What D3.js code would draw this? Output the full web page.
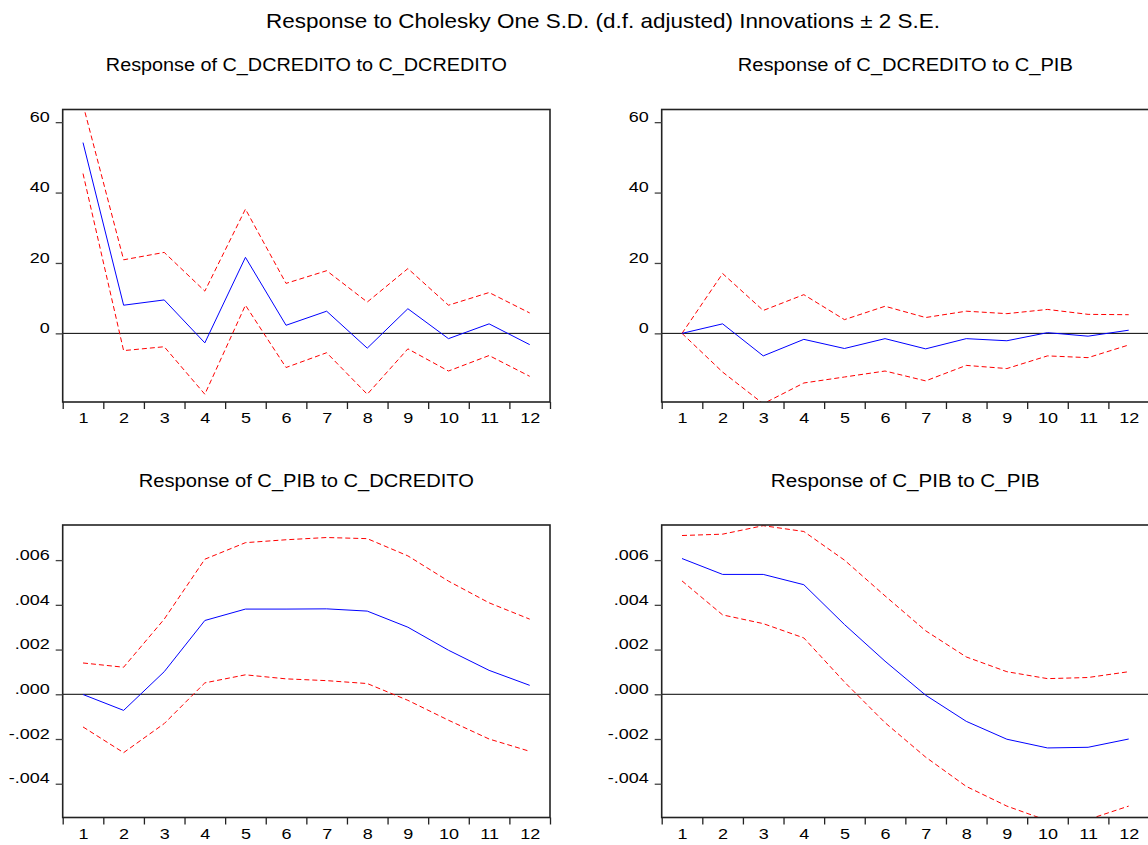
<!DOCTYPE html>
<html>
<head>
<meta charset="utf-8">
<script src="https://cdn.jsdelivr.net/npm/d3@7"></script>
<style>
  html, body { margin: 0; padding: 0; background: #fff; }
  svg { display: block; font-family: "Liberation Sans", Arial, sans-serif; }
</style>
</head>
<body>
<svg id="chart" width="1148" height="845"></svg>
<script>
// ---- data ----
const periods = [1, 2, 3, 4, 5, 6, 7, 8, 9, 10, 11, 12];

const mainTitle = "Response to Cholesky One S.D. (d.f. adjusted) Innovations \u00B1 2 S.E.";
const panelTitles = [
  "Response of C_DCREDITO to C_DCREDITO",
  "Response of C_DCREDITO to C_PIB",
  "Response of C_PIB to C_DCREDITO",
  "Response of C_PIB to C_PIB"
];

const topTicks = [0, 20, 40, 60];
const bottomTicks = [-0.004, -0.002, 0.000, 0.002, 0.004, 0.006];

// Response of C_DCREDITO to C_DCREDITO
const credCredResp  = [54.2, 8.0, 9.5, -2.7, 21.6, 2.3, 6.3, -4.2, 7.0, -1.5, 2.7, -3.2];
const credCredUpper = [65.0, 20.9, 23.0, 12.0, 35.3, 14.2, 17.8, 8.9, 18.4, 8.0, 11.6, 5.8];
const credCredLower = [45.4, -4.9, -3.8, -17.3, 8.0, -9.7, -5.5, -17.3, -4.4, -10.7, -6.3, -12.2];

// Response of C_DCREDITO to C_PIB
const credPibResp  = [0.0, 2.7, -6.4, -1.7, -4.3, -1.5, -4.4, -1.5, -2.1, 0.2, -0.8, 0.9];
const credPibUpper = [0.0, 17.0, 6.5, 11.0, 3.9, 7.7, 4.5, 6.3, 5.6, 6.8, 5.4, 5.3];
const credPibLower = [0.0, -11.0, -20.0, -14.1, -12.4, -10.7, -13.5, -9.1, -10.0, -6.4, -6.9, -3.3];

// Response of C_PIB to C_DCREDITO
const pibCredResp  = [-0.00001, -0.00072, 0.00101, 0.00330, 0.00381, 0.00381, 0.00382, 0.00372, 0.00300, 0.00197, 0.00107, 0.00040];
const pibCredUpper = [0.00140, 0.00121, 0.00336, 0.00604, 0.00678, 0.00691, 0.00701, 0.00696, 0.00619, 0.00506, 0.00409, 0.00336];
const pibCredLower = [-0.00146, -0.00261, -0.00131, 0.00051, 0.00087, 0.00069, 0.00061, 0.00048, -0.00027, -0.00116, -0.00200, -0.00255];

// Response of C_PIB to C_PIB
const pibPibResp  = [0.00607, 0.00536, 0.00536, 0.00490, 0.00312, 0.00148, -0.00004, -0.00121, -0.00201, -0.00240, -0.00237, -0.00200];
const pibPibUpper = [0.00710, 0.00716, 0.00754, 0.00728, 0.00600, 0.00440, 0.00284, 0.00167, 0.00101, 0.00070, 0.00075, 0.00101];
const pibPibLower = [0.00507, 0.00355, 0.00316, 0.00252, 0.00055, -0.00127, -0.00281, -0.00412, -0.00500, -0.00565, -0.00560, -0.00500];

const topDomain = [-19.5, 63.6];
const bottomDomain = [-0.00551, 0.00757];

// ---- layout ----
const svg = d3.select("#chart");
const panelW = 487.3;
const colX = [62.7, 661.7];
const rowY = [[109.5, 402], [525, 817.5]];
const titleY = [66, 482];
const panelTitleWidths = [401, 335, 335, 269];

function stretch(sel, factor) {
  sel.each(function () {
    const len = this.getComputedTextLength();
    d3.select(this).attr("textLength", len * factor).attr("lengthAdjust", "spacingAndGlyphs");
  });
}

svg.append("text")
  .attr("x", 603).attr("y", 22)
  .attr("text-anchor", "middle")
  .attr("dominant-baseline", "middle")
  .attr("font-size", 21)
  .attr("fill", "#000")
  .text(mainTitle)
  .attr("textLength", 674).attr("lengthAdjust", "spacingAndGlyphs");

function fmtSmall(v) {
  const s = Math.abs(v).toFixed(3).replace(/^0/, "");
  return (v < -1e-12 ? "-" : "") + s;
}

const panels = [
  { title: panelTitles[0], col: 0, row: 0, resp: credCredResp, up: credCredUpper, lo: credCredLower, domain: topDomain, ticks: topTicks, fmt: d => String(d) },
  { title: panelTitles[1], col: 1, row: 0, resp: credPibResp, up: credPibUpper, lo: credPibLower, domain: topDomain, ticks: topTicks, fmt: d => String(d) },
  { title: panelTitles[2], col: 0, row: 1, resp: pibCredResp, up: pibCredUpper, lo: pibCredLower, domain: bottomDomain, ticks: bottomTicks, fmt: fmtSmall },
  { title: panelTitles[3], col: 1, row: 1, resp: pibPibResp, up: pibPibUpper, lo: pibPibLower, domain: bottomDomain, ticks: bottomTicks, fmt: fmtSmall }
];

panels.forEach((p, i) => {
  const x0 = colX[p.col], x1 = x0 + panelW;
  const y0 = rowY[p.row][0], y1 = rowY[p.row][1];

  const x = d3.scaleLinear().domain([0.5, 12.5]).range([x0, x1]);
  const y = d3.scaleLinear().domain(p.domain).range([y1, y0]);

  const g = svg.append("g");

  // title
  g.append("text")
    .attr("x", (x0 + x1) / 2).attr("y", titleY[p.row])
    .attr("text-anchor", "middle")
    .attr("dominant-baseline", "middle")
    .attr("font-size", 17.5)
    .attr("fill", "#000")
    .text(p.title)
    .attr("textLength", panelTitleWidths[i]).attr("lengthAdjust", "spacingAndGlyphs");

  // clip
  const clipId = "clip" + i;
  svg.append("clipPath").attr("id", clipId)
    .append("rect").attr("x", x0).attr("y", y0).attr("width", x1 - x0).attr("height", y1 - y0);

  // zero line
  g.append("line")
    .attr("x1", x0).attr("x2", x1)
    .attr("y1", y(0)).attr("y2", y(0))
    .attr("stroke", "#000").attr("stroke-width", 1);

  const line = d3.line().x((d, k) => x(periods[k])).y(d => y(d));
  const lg = g.append("g").attr("clip-path", `url(#${clipId})`);

  lg.append("path").datum(p.up)
    .attr("d", line).attr("fill", "none")
    .attr("stroke", "#ff0000").attr("stroke-width", 1).attr("stroke-dasharray", "5,3");
  lg.append("path").datum(p.lo)
    .attr("d", line).attr("fill", "none")
    .attr("stroke", "#ff0000").attr("stroke-width", 1).attr("stroke-dasharray", "5,3");
  lg.append("path").datum(p.resp)
    .attr("d", line).attr("fill", "none")
    .attr("stroke", "#0000ff").attr("stroke-width", 1);

  // frame
  g.append("rect")
    .attr("x", x0).attr("y", y0).attr("width", x1 - x0).attr("height", y1 - y0)
    .attr("fill", "none").attr("stroke", "#222").attr("stroke-width", 1.6);

  // x axis: boundary ticks
  const xb = g.append("g").attr("transform", `translate(0,${y1})`)
    .call(d3.axisBottom(x).tickValues(d3.range(0.5, 13, 1)).tickSize(7).tickFormat(""));
  xb.select(".domain").remove();
  xb.selectAll("line").attr("stroke", "#222").attr("stroke-width", 1.3);

  // x axis labels
  const xl = g.append("g").attr("transform", `translate(0,${y1})`)
    .call(d3.axisBottom(x).tickValues(periods).tickSize(0).tickPadding(10).tickFormat(d3.format("d")));
  xl.select(".domain").remove();
  xl.selectAll("text").attr("font-size", 15.5).attr("font-family", "Liberation Sans, Arial, sans-serif").attr("fill", "#000");
  stretch(xl.selectAll("text"), 1.16);

  // y axis
  const ya = g.append("g").attr("transform", `translate(${x0},0)`)
    .call(d3.axisLeft(y).tickValues(p.ticks).tickSize(7).tickPadding(6).tickFormat(p.fmt));
  ya.select(".domain").remove();
  ya.selectAll("line").attr("stroke", "#444").attr("stroke-width", 1.3);
  ya.selectAll("text").attr("font-size", 15.5).attr("dy", "-0.05em")
    .attr("font-family", "Liberation Sans, Arial, sans-serif").attr("fill", "#000");
  stretch(ya.selectAll("text"), 1.16);
});
</script>
</body>
</html>
